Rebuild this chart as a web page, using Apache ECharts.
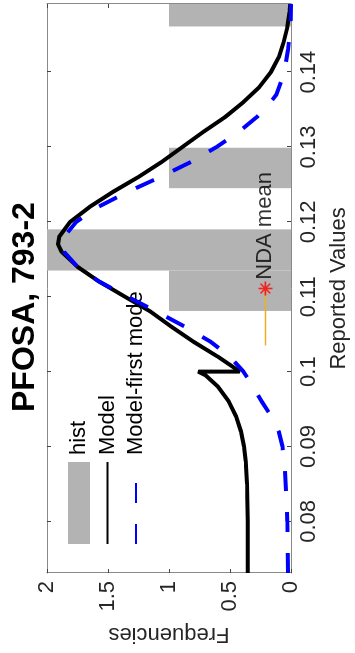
<!DOCTYPE html>
<html>
<head>
<meta charset="utf-8">
<script src="https://cdn.jsdelivr.net/npm/echarts@6/dist/echarts.min.js"></script>
<style>
html,body{margin:0;padding:0;background:#fff;overflow:hidden;width:355px;height:653px;}
#chart{position:absolute;left:0;top:0;width:653px;height:355px;transform-origin:0 0;transform:translate(0px,653px) rotate(-90deg);background:#fff;}
</style>
</head>
<body>
<div id="chart"></div>
<script>
// ---- data ----
const titleText = 'PFOSA, 793-2';
const xAxisName = 'Reported Values';
const yAxisName = 'Frequencies';
const reportedTicks = [0.08, 0.09, 0.10, 0.11, 0.12, 0.13, 0.14];
const reportedTickLabels = ['0.08', '0.09', '0.1', '0.11', '0.12', '0.13', '0.14'];
const freqTicks = [0, 0.5, 1, 1.5, 2];
const freqTickLabels = ['0', '0.5', '1', '1.5', '2'];
// histogram bins: [left edge, right edge, count]
const histBins = [
  [0.1081, 0.1135, 1],
  [0.1135, 0.1190, 2],
  [0.1245, 0.1299, 1],
  [0.1461, 0.1515, 1]
];
// Model curve [value, frequency]
const modelCurve = [
  [0.0731, 0.355], [0.080, 0.355], [0.085, 0.36], [0.088, 0.37], [0.090, 0.385],
  [0.092, 0.41], [0.094, 0.45], [0.096, 0.51], [0.098, 0.60], [0.0995, 0.70],
  [0.1000, 0.76], [0.1000, 0.42], [0.102, 0.60], [0.104, 0.80], [0.106, 0.98],
  [0.108, 1.15], [0.110, 1.36], [0.112, 1.57], [0.114, 1.75], [0.116, 1.88],
  [0.117, 1.91], [0.118, 1.90], [0.120, 1.81], [0.122, 1.65], [0.124, 1.46],
  [0.126, 1.25], [0.128, 1.06], [0.130, 0.89], [0.132, 0.72], [0.134, 0.54],
  [0.136, 0.39], [0.138, 0.26], [0.140, 0.165], [0.142, 0.10], [0.144, 0.06],
  [0.146, 0.03], [0.148, 0.012], [0.1491, 0.006]
];
// Model-first mode curve [value, frequency]
const firstModeCurve = [
  [0.0731, 0.025], [0.080, 0.03], [0.084, 0.04], [0.087, 0.05], [0.090, 0.07],
  [0.092, 0.10], [0.094, 0.16], [0.096, 0.24], [0.098, 0.31], [0.100, 0.39],
  [0.102, 0.50], [0.104, 0.66], [0.106, 0.87], [0.108, 1.10], [0.110, 1.34],
  [0.112, 1.57], [0.114, 1.75], [0.116, 1.86], [0.117, 1.88], [0.118, 1.86],
  [0.120, 1.76], [0.122, 1.58], [0.124, 1.34], [0.126, 1.07], [0.128, 0.82],
  [0.130, 0.61], [0.132, 0.43], [0.134, 0.28], [0.1355, 0.19], [0.137, 0.12],
  [0.139, 0.075], [0.141, 0.045], [0.143, 0.025], [0.145, 0.01], [0.147, 0.003],
  [0.1491, 0.0]
];
const ndaMean = [0.1111, 0.21];
const ndaRangeLine = [[0.1035, 0.21], [0.1111, 0.21]];
const ndaLabel = 'NDA mean';
const legendNames = ['hist', 'Model', 'Model-first mode'];

// ---- chart ----
const FONT = '"Liberation Sans", Arial, Helvetica, sans-serif';
const axisColor = '#8a8a8a';
const textColor = '#262626';
const xMin = 0.0731, xMax = 0.1491;
const chart = echarts.init(document.getElementById('chart'), null, {renderer: 'canvas', width: 653, height: 355});

const asteriskPath = 'path://M10 0 L10 20 M0 10 L20 10 M3 3 L17 17 M3 17 L17 3';

const option = {
  animation: false,
  backgroundColor: '#fff',
  textStyle: {fontFamily: FONT},
  title: {
    text: titleText,
    left: 241,
    top: 9,
    padding: 0,
    textStyle: {fontFamily: FONT, fontSize: 32, fontWeight: 'bold', color: '#000'}
  },
  legend: {
    orient: 'vertical',
    left: 108,
    top: 68,
    padding: 0,
    itemWidth: 82,
    itemHeight: 22,
    itemGap: 6.5,
    textStyle: {fontFamily: FONT, fontSize: 22, color: '#000', padding: [0, 0, 0, 2]},
    data: [
      {name: legendNames[0], icon: 'rect', itemStyle: {color: '#b3b3b3'}},
      {name: legendNames[1], itemStyle: {opacity: 0}},
      {name: legendNames[2], itemStyle: {opacity: 0}}
    ],
    selectedMode: false
  },
  grid: {left: 80, right: 4, top: 47, bottom: 64, containLabel: false},
  xAxis: [{
    type: 'value', min: xMin, max: xMax, position: 'bottom',
    name: xAxisName, nameLocation: 'middle', nameGap: 37,
    nameTextStyle: {fontFamily: FONT, fontSize: 22, color: textColor},
    axisLine: {show: true, lineStyle: {color: axisColor, width: 1}},
    axisTick: {show: true, inside: true, length: 4, lineStyle: {color: '#444'}, customValues: reportedTicks},
    axisLabel: {show: true, margin: 7, fontFamily: FONT, fontSize: 22, color: textColor, customValues: reportedTicks,
      formatter: function (v) { const i = reportedTicks.findIndex(t => Math.abs(t - v) < 1e-9); return i >= 0 ? reportedTickLabels[i] : ''; }},
    splitLine: {show: false}
  }, {
    type: 'value', min: xMin, max: xMax, position: 'top',
    axisLine: {show: true, onZero: false, lineStyle: {color: axisColor, width: 1}},
    axisTick: {show: true, inside: true, length: 4, lineStyle: {color: '#444'}, customValues: reportedTicks},
    axisLabel: {show: false},
    splitLine: {show: false}
  }],
  yAxis: [{
    type: 'value', min: 0, max: 2, interval: 0.5, position: 'left',
    name: yAxisName, nameLocation: 'middle', nameGap: 50, nameRotate: 90,
    nameTextStyle: {fontFamily: FONT, fontSize: 22, color: textColor},
    axisLine: {show: true, lineStyle: {color: axisColor, width: 1}},
    axisTick: {show: true, inside: true, length: 4, lineStyle: {color: '#444'}},
    axisLabel: {show: true, margin: 8, fontFamily: FONT, fontSize: 22, color: textColor,
      formatter: function (v) { const i = freqTicks.findIndex(t => Math.abs(t - v) < 1e-9); return i >= 0 ? freqTickLabels[i] : ''; }},
    splitLine: {show: false}
  }, {
    type: 'value', min: 0, max: 2, interval: 0.5, position: 'right',
    axisLine: {show: true, onZero: false, lineStyle: {color: axisColor, width: 1}},
    axisTick: {show: true, inside: true, length: 4, lineStyle: {color: '#444'}},
    axisLabel: {show: false},
    splitLine: {show: false}
  }],
  series: [
    {
      name: legendNames[0], type: 'custom', xAxisIndex: 0, yAxisIndex: 0,
      itemStyle: {color: '#b3b3b3'},
      encode: {x: [0, 1], y: 2},
      data: histBins,
      renderItem: function (params, api) {
        const p0 = api.coord([api.value(0), api.value(2)]);
        const p1 = api.coord([api.value(1), 0]);
        const cs = params.coordSys;
        const shape = echarts.graphic.clipRectByRect(
          {x: p0[0], y: p0[1], width: p1[0] - p0[0], height: p1[1] - p0[1]},
          {x: cs.x, y: cs.y, width: cs.width, height: cs.height});
        return shape && {type: 'rect', shape: shape, style: {fill: '#b3b3b3'}};
      },
      z: 1
    },
    {
      name: legendNames[1], type: 'line', data: modelCurve, symbol: 'none', smooth: false,
      lineStyle: {color: '#000', width: 4}, itemStyle: {color: '#000'}, z: 3
    },
    {
      name: legendNames[2], type: 'line', data: firstModeCurve, symbol: 'none', smooth: false,
      lineStyle: {color: '#0000ff', width: 4, type: [20, 21]}, itemStyle: {color: '#0000ff'}, z: 4
    },
    {
      name: 'ndaRange', type: 'line', data: ndaRangeLine, symbol: 'none',
      lineStyle: {color: '#EDB120', width: 1.5}, z: 5
    },
    {
      name: 'ndaMean', type: 'scatter', data: [ndaMean], symbol: asteriskPath, symbolSize: 14,
      itemStyle: {color: 'rgba(0,0,0,0)', borderColor: '#ff0000', borderWidth: 1.6},
      label: {show: true, position: 'right', distance: 1, formatter: ndaLabel, fontFamily: FONT, fontSize: 22, color: '#000'},
      z: 6
    }
  ]
};
chart.setOption(option);
</script>
</body>
</html>
